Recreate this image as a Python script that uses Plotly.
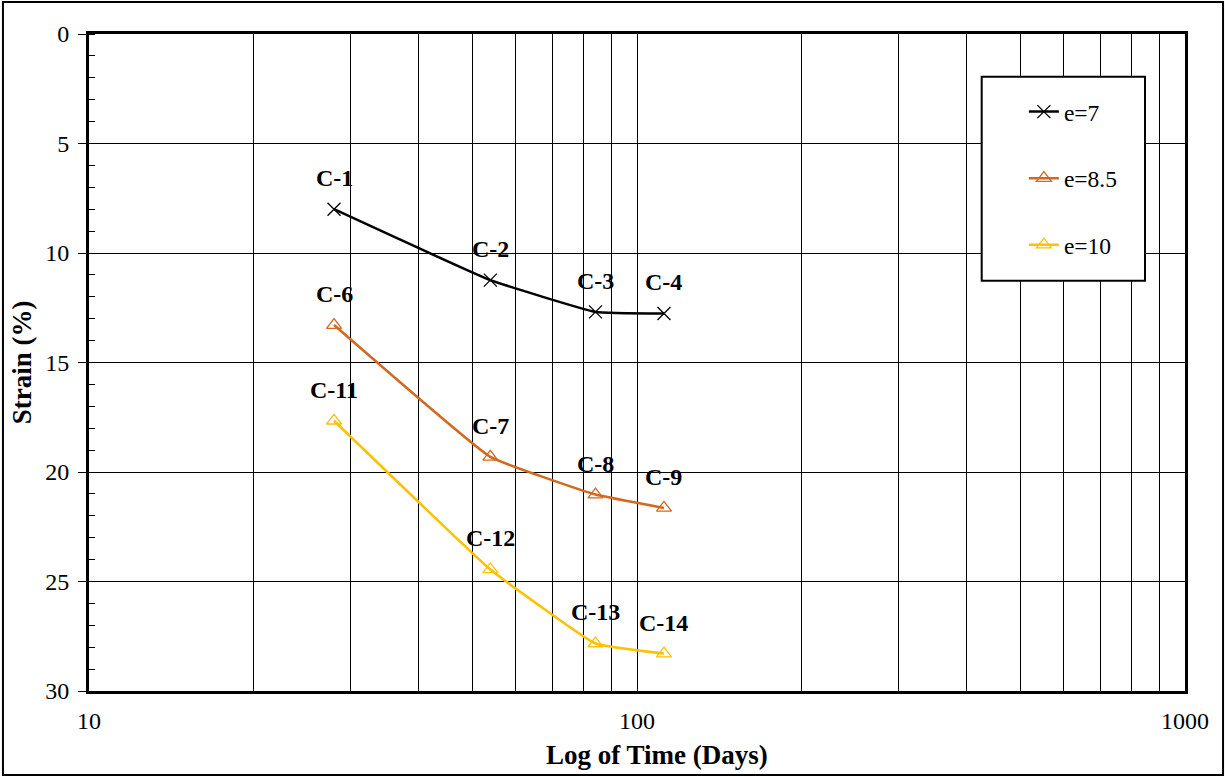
import math
import plotly.graph_objects as go

# ---- data ----
time_days = [28, 54, 84, 112]
strain_e7 = [8.0, 11.24, 12.69, 12.76]
strain_e85 = [13.29, 19.31, 21.03, 21.64]
strain_e10 = [17.66, 24.45, 27.83, 28.29]
labels_e7 = ["C-1", "C-2", "C-3", "C-4"]
labels_e85 = ["C-6", "C-7", "C-8", "C-9"]
labels_e10 = ["C-11", "C-12", "C-13", "C-14"]
series_names = ["e=7", "e=8.5", "e=10"]
x_tickvals = [10, 20, 30, 40, 50, 60, 70, 80, 90, 100,
              200, 300, 400, 500, 600, 700, 800, 900, 1000]
x_ticktext = ["10", "", "", "", "", "", "", "", "", "100",
              "", "", "", "", "", "", "", "", "1000"]

FONT = "Liberation Serif, Times New Roman, serif"
colors = ["#000000", "#D2691E", "#FFC000"]
symbols = ["x-thin-open", "triangle-up-open", "triangle-up-open"]

fig = go.Figure()
for i, (ys, labs) in enumerate([(strain_e7, labels_e7), (strain_e85, labels_e85), (strain_e10, labels_e10)]):
    fig.add_trace(go.Scatter(
        x=time_days, y=ys, name=series_names[i], mode="lines+markers",
        legendgroup=series_names[i],
        line=dict(color=colors[i], width=2.5, shape="spline", smoothing=0.3),
        marker=dict(symbol=symbols[i], size=13, color=colors[i],
                    line=dict(color=colors[i], width=1.3)),
    ))
    for xv, yv, lab in zip(time_days, ys, labs):
        # annotations on a log axis take log10 coordinates
        fig.add_annotation(x=math.log10(xv), y=yv, text="<b>%s</b>" % lab, showarrow=False,
                           yshift=31, font=dict(family=FONT, size=24, color="black"))

# x-axis title placed as in the reference
fig.add_annotation(xref="paper", yref="paper", x=0.518, y=-0.0974,
                   xanchor="center", yanchor="middle", showarrow=False,
                   text="<b>Log of Time (Days)</b>",
                   font=dict(family=FONT, size=27, color="black"))

# legend box
fig.add_shape(type="rect", xref="paper", yref="paper",
              x0=0.8145, x1=0.9635, y0=0.6245, y1=0.935,
              line=dict(color="black", width=2), fillcolor="white", layer="above")
# outer frame
fig.add_shape(type="rect", xref="paper", yref="paper",
              x0=-0.0785, x1=1.0347, y0=-0.128, y1=1.0487,
              line=dict(color="black", width=2), fillcolor="rgba(0,0,0,0)", layer="above")

fig.update_layout(
    width=1225, height=777,
    margin=dict(l=89, r=40, t=34, b=86),
    paper_bgcolor="white", plot_bgcolor="white",
    font=dict(family=FONT, size=24, color="black"),
    showlegend=True,
    legend=dict(x=0.853, y=0.915, xanchor="left", yanchor="top",
                bgcolor="rgba(0,0,0,0)", borderwidth=0,
                tracegroupgap=33, font=dict(family=FONT, size=23.5)),
    xaxis=dict(type="log", range=[1, 3], tickvals=x_tickvals, ticktext=x_ticktext,
               showgrid=True, gridcolor="#000000", gridwidth=1,
               showline=True, linecolor="black", linewidth=3, mirror=True,
               ticks="", ticklabelstandoff=6, zeroline=False,
               tickfont=dict(family=FONT, size=24)),
    yaxis=dict(range=[30, 0], dtick=5, tick0=0,
               showgrid=True, gridcolor="#000000", gridwidth=1,
               showline=True, linecolor="black", linewidth=3, mirror=True,
               ticks="outside", ticklen=8, tickcolor="black", tickwidth=1,
               ticklabelstandoff=4,
               minor=dict(ticks="inside", dtick=1, ticklen=6, tickcolor="black", showgrid=False),
               zeroline=False, tickfont=dict(family=FONT, size=24),
               title=dict(text="<b>Strain (%)</b>", standoff=6,
                          font=dict(family=FONT, size=27))),
)

fig.write_html("out.html")
